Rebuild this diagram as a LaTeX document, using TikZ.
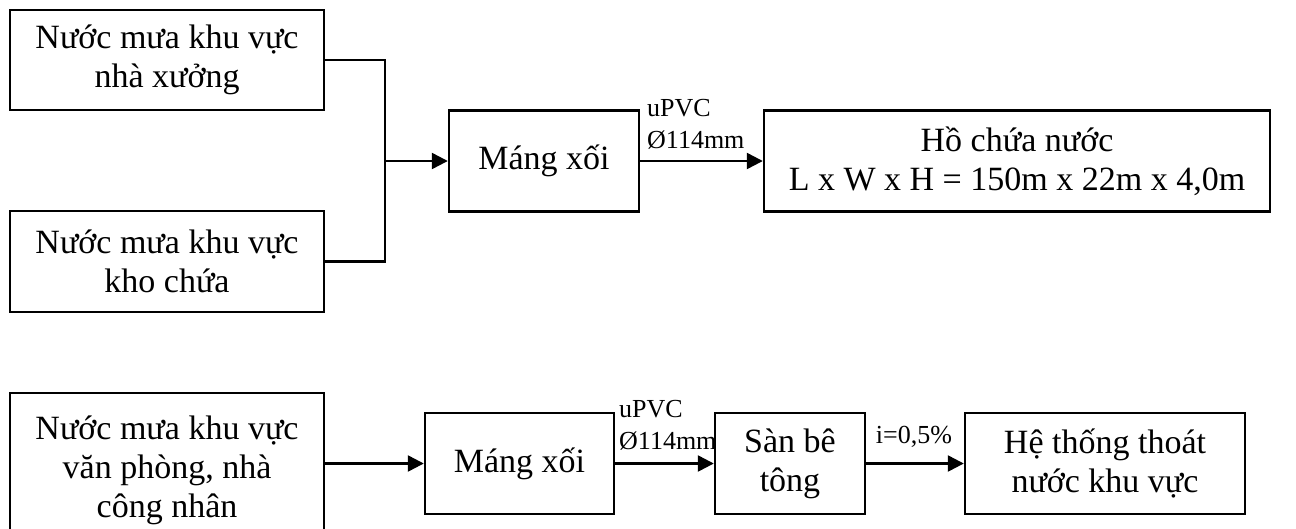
\documentclass[tikz,border=0pt]{standalone}
\usepackage{fontspec}
\setmainfont{Liberation Serif}
\usetikzlibrary{arrows.meta}
\begin{document}
\begin{tikzpicture}[x=1pt,y=-1pt,
  box/.style={draw, line width=2.4pt, inner sep=0pt, align=center,
    font=\fontsize{34}{39}\selectfont},
  lbl/.style={inner sep=0pt, align=left, font=\fontsize{26}{32}\selectfont},
  pipe/.style={line width=2.4pt},
  flow/.style={line width=2.4pt, -{Triangle[length=16pt,width=16pt]}}]
\useasboundingbox (0,0) rectangle (1296,528);

% upper chain: two collecting areas feed the gutter and the pond
\node[box, minimum width=314pt, minimum height=100pt] (xuong) at (167,60)
  {Nước mưa khu vực\\nhà xưởng};
\node[box, minimum width=314pt, minimum height=101pt] (kho) at (167,261.5)
  {Nước mưa khu vực\\kho chứa};
\node[box, minimum width=190pt, minimum height=101pt] (mang1) at (544,161)
  {Máng xối};
\node[box, minimum width=506pt, minimum height=101pt] (ho) at (1017,161)
  {Hồ chứa nước\\L x W x H = 150m x 22m x 4,0m};

\coordinate (j) at (385,161);
\draw[pipe] (xuong.east) -| (j);
\draw[pipe] (kho.east) -| (j);
\draw[flow] (j) -- (mang1.west);
\draw[flow] (mang1.east) -- (ho.west);
\node[lbl, anchor=west] (ong1) at (647,124) {uPVC\\Ø114mm};

% lower chain: office and worker housing area
\node[box, minimum width=314pt, minimum height=154pt] (vp) at (167,470)
  {Nước mưa khu vực\\văn phòng, nhà\\công nhân};
\node[box, minimum width=189pt, minimum height=101pt] (mang2) at (519.5,463.5)
  {Máng xối};
\node[box, minimum width=150pt, minimum height=101pt] (san) at (790,463.5)
  {Sàn bê\\tông};
\node[box, minimum width=280pt, minimum height=101pt] (tt) at (1105,463.5)
  {Hệ thống thoát\\nước khu vực};

\draw[flow] (vp.east |- mang2.west) -- (mang2.west);
\draw[flow] (mang2.east) -- (san.west);
\draw[flow] (san.east) -- (tt.west);
\node[lbl, anchor=west] (ong2) at (619,425) {uPVC\\Ø114mm};
\node[lbl] (doc) at (914,437) {i=0,5\%};
\end{tikzpicture}
\end{document}
